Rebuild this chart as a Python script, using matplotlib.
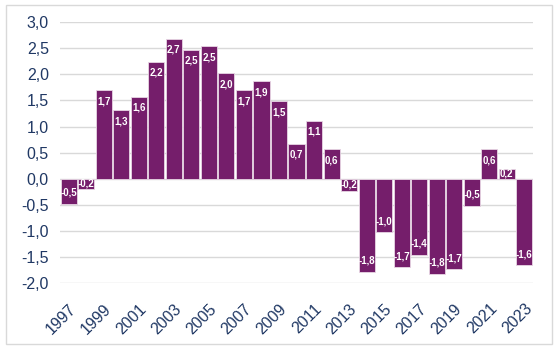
import matplotlib
matplotlib.use("Agg")
import matplotlib.pyplot as plt
from matplotlib.patches import Rectangle

years = list(range(1997, 2024))
values = [
    -0.48, -0.2, 1.7, 1.31, 1.57, 2.24, 2.68, 2.47, 2.54, 2.02,
    1.7, 1.87, 1.48, 0.67, 1.11, 0.57, -0.23, -1.79, -1.03, -1.7,
    -1.46, -1.82, -1.74, -0.52, 0.57, 0.19, -1.66,
]
labels = [
    "-0,5", "-0,2", "1,7", "1,3", "1,6", "2,2", "2,7", "2,5", "2,5", "2,0",
    "1,7", "1,9", "1,5", "0,7", "1,1", "0,6", "-0,2", "-1,8", "-1,0", "-1,7",
    "-1,4", "-1,8", "-1,7", "-0,5", "0,6", "0,2", "-1,6",
]
yticks = [-2.0, -1.5, -1.0, -0.5, 0.0, 0.5, 1.0, 1.5, 2.0, 2.5, 3.0]

BAR = "#751E6B"
TXT = "#203864"
GRID = "#D9D9D9"

plt.rcParams["font.family"] = ["Liberation Sans", "DejaVu Sans"]

fig = plt.figure(figsize=(5.6, 3.52), dpi=100)
ax = fig.add_axes([0.107, 0.196, 0.845, 0.741])

x = list(range(len(years)))
ax.bar(x, values, width=0.92, color=BAR, edgecolor="#E8D6E5", linewidth=0.6, zorder=2)

# label sits inside the bar end; short bars get it in the middle
pt_per_unit = 0.741 * 3.52 * 72 / 5.0
for xi, v, lab in zip(x, values, labels):
    dist = min(8.0, abs(v) * pt_per_unit / 2)
    off = -dist if v > 0 else dist
    ax.annotate(lab, (xi, v), xytext=(0, off), textcoords="offset points",
                ha="center", va="center", color="white", fontsize=7,
                fontweight="bold", zorder=3)

ax.set_xlim(-0.5, len(years) - 0.5)
ax.set_ylim(-2.0, 3.0)
ax.set_yticks(yticks)
ax.set_yticklabels([f"{t:.1f}".replace(".", ",") for t in yticks])
ax.set_xticks(x[::2])
ax.set_xticklabels([str(y) for y in years[::2]], rotation=45, ha="right",
                   rotation_mode="anchor")
ax.tick_params(length=0, colors=TXT, labelsize=11.5)
ax.tick_params(axis="y", pad=8)
ax.tick_params(axis="x", pad=13)
ax.grid(axis="y", color=GRID, linewidth=1, zorder=0)
ax.set_axisbelow(True)
for s in ax.spines.values():
    s.set_visible(False)

fig.patches.append(Rectangle((6 / 560, 1 - 344 / 352), 546 / 560, 339 / 352,
                             transform=fig.transFigure, fill=False,
                             edgecolor=GRID, linewidth=1))

fig.savefig("out.png", dpi=100)
